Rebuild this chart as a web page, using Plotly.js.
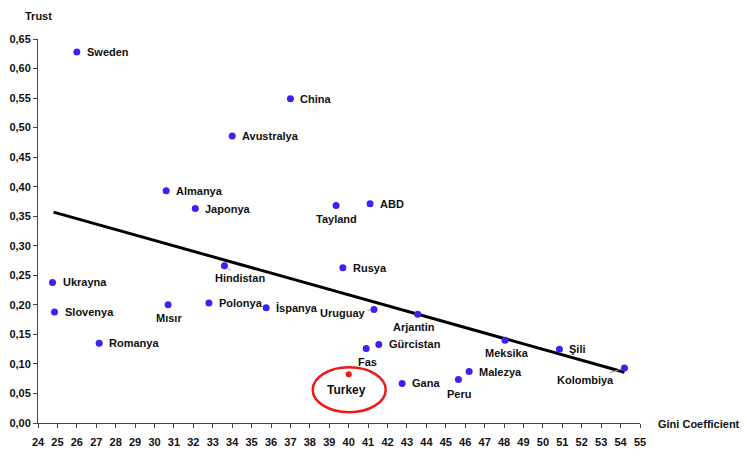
<!DOCTYPE html>
<html>
<head>
<meta charset="utf-8">
<script src="https://cdn.plot.ly/plotly-3.0.1.min.js"></script>
<style>
  html, body { margin: 0; padding: 0; background: #fff; }
  #chart { width: 750px; height: 460px; }
</style>
</head>
<body>
<div id="chart"></div>
<script>
// values
const countries = [
  'Sweden', 'China', 'Avustralya', 'Almanya', 'Japonya', 'Tayland', 'ABD',
  'Ukrayna', 'Slovenya', 'Romanya', 'Mısır', 'Hindistan', 'Polonya', 'İspanya',
  'Rusya', 'Uruguay', 'Fas', 'Arjantin', 'Gürcistan', 'Gana', 'Peru',
  'Malezya', 'Meksika', 'Şili', 'Kolombiya',
];
const gini = [
  26.0, 37.0, 34.0, 30.6, 32.1, 39.35, 41.1,
  24.75, 24.85, 27.15, 30.7, 33.6, 32.8, 35.75,
  39.7, 41.3, 40.9, 43.55, 41.55, 42.75, 45.65,
  46.2, 48.05, 50.85, 54.2,
];
const trust = [
  0.628, 0.549, 0.486, 0.393, 0.363, 0.368, 0.371,
  0.238, 0.188, 0.135, 0.200, 0.266, 0.203, 0.195,
  0.263, 0.192, 0.126, 0.184, 0.133, 0.067, 0.0735,
  0.087, 0.140, 0.125, 0.093,
];

const turkeyGini = [40.0];
const turkeyTrust = [0.0825];

// fitted line, end points
const trendGini = [24.8, 54.2];
const trendTrust = [0.357, 0.086];

const FONT = 'Liberation Sans, Arial, sans-serif';
const BLUE = '#3b22f0';
const RED = '#f01818';

// label placement: [side, dx, dy] in pixels
const LABEL_POS = {
  'Tayland': ['below', 0, -13],
  'Mısır': ['below', 1, -13],
  'Fas': ['below', 1, -13],
  'Arjantin': ['below', -4, -13],
  'Peru': ['below', 1, -14],
  'Meksika': ['below', 2, -13],
  'Hindistan': ['arrow', 16, 12],
  'Uruguay': ['arrow', -31, 3],
  'Kolombiya': ['arrow', -39, 12],
};

const labelFont = { family: FONT, size: 11, color: '#111', weight: 'bold' };

const annotations = countries.map((name, i) => {
  const pos = LABEL_POS[name] || ['right', 8, 0];
  const base = { x: gini[i], y: trust[i], text: name, font: labelFont };
  if (pos[0] === 'arrow') {
    return Object.assign(base, {
      showarrow: true, arrowhead: 0, arrowwidth: 1, arrowcolor: '#999',
      standoff: 4, ax: pos[1], ay: pos[2],
    });
  }
  if (pos[0] === 'below') {
    return Object.assign(base, {
      showarrow: false, xanchor: 'center', yanchor: 'middle',
      xshift: pos[1], yshift: pos[2],
    });
  }
  return Object.assign(base, {
    showarrow: false, xanchor: 'left', yanchor: 'middle',
    xshift: pos[1], yshift: pos[2],
  });
});

annotations.push({
  x: turkeyGini[0], y: turkeyTrust[0], text: 'Turkey', showarrow: false,
  xanchor: 'center', yanchor: 'middle', xshift: -2, yshift: -16,
  font: { family: FONT, size: 12, color: '#111', weight: 'bold' },
});

// axis titles
annotations.push({
  xref: 'paper', yref: 'paper', x: 0, y: 1, yshift: 23,
  xanchor: 'center', yanchor: 'middle', showarrow: false,
  text: 'Trust', font: labelFont,
});
annotations.push({
  xref: 'paper', yref: 'paper', x: 1, y: 0, xshift: 16, yshift: -1,
  xanchor: 'left', yanchor: 'middle', showarrow: false,
  text: 'Gini Coefficient', font: labelFont,
});

const traces = [
  {
    x: trendGini, y: trendTrust,
    type: 'scatter', mode: 'lines',
    line: { color: '#000', width: 3 },
    hoverinfo: 'skip',
  },
  {
    x: gini, y: trust,
    type: 'scatter', mode: 'markers',
    marker: { color: BLUE, size: 7 },
    text: countries,
  },
  {
    x: turkeyGini, y: turkeyTrust,
    type: 'scatter', mode: 'markers',
    marker: { color: RED, size: 6 },
    text: ['Turkey'],
  },
];

const tickFont = { family: FONT, size: 11, color: '#111', weight: 'bold' };

const layout = {
  width: 750,
  height: 460,
  showlegend: false,
  separators: ',.',
  paper_bgcolor: '#fff',
  plot_bgcolor: '#fff',
  margin: { t: 39, r: 110, b: 37, l: 38 },
  xaxis: {
    range: [24, 55],
    dtick: 1,
    tick0: 24,
    showgrid: false,
    zeroline: false,
    showline: true,
    linecolor: '#444',
    linewidth: 1,
    ticks: 'outside',
    ticklen: 4,
    tickcolor: '#444',
    ticklabelstandoff: 5,
    tickfont: tickFont,
  },
  yaxis: {
    range: [0, 0.65],
    dtick: 0.05,
    tick0: 0,
    tickformat: '.2f',
    showgrid: false,
    zeroline: false,
    showline: true,
    linecolor: '#444',
    linewidth: 1,
    ticks: 'outside',
    ticklen: 4,
    tickcolor: '#444',
    tickfont: tickFont,
  },
  annotations,
  shapes: [
    // red ring round Turkey
    {
      type: 'circle',
      xref: 'x', yref: 'y',
      xsizemode: 'pixel', ysizemode: 'pixel',
      xanchor: turkeyGini[0], yanchor: turkeyTrust[0],
      x0: -36, x1: 37, y0: -38, y1: 7,
      line: { color: RED, width: 2.5 },
    },
  ],
};

Plotly.newPlot('chart', traces, layout, { displayModeBar: false, staticPlot: true });
</script>
</body>
</html>
